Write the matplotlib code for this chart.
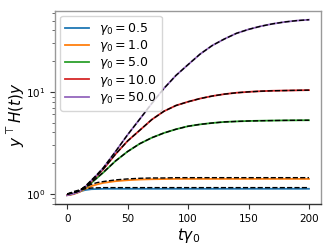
import numpy as np
import matplotlib
matplotlib.use("Agg")
import matplotlib.pyplot as plt

# time grid (t*gamma0) and values
t = np.array([0, 5, 10, 15, 20, 25, 30, 40, 50, 60, 70, 80, 90, 100,
              110, 120, 130, 140, 150, 160, 170, 180, 190, 200])
gammas = [0.5, 1.0, 5.0, 10.0, 50.0]

H_05 = [0.97, 1.00, 1.05, 1.09, 1.11, 1.115, 1.12, 1.12, 1.12, 1.12, 1.12, 1.12,
        1.12, 1.12, 1.12, 1.12, 1.12, 1.12, 1.12, 1.12, 1.12, 1.12, 1.12, 1.12]
H_1 = [0.97, 0.99, 1.04, 1.12, 1.19, 1.24, 1.28, 1.33, 1.36, 1.38, 1.39, 1.395,
       1.40, 1.40, 1.40, 1.40, 1.40, 1.40, 1.40, 1.40, 1.40, 1.40, 1.40, 1.40]
H_5 = [0.97, 1.0, 1.05, 1.14, 1.28, 1.44, 1.62, 2.1, 2.6, 3.1, 3.55, 3.95,
       4.3, 4.6, 4.8, 4.95, 5.07, 5.13, 5.18, 5.21, 5.23, 5.25, 5.26, 5.27]
H_10 = [0.97, 1.0, 1.05, 1.16, 1.32, 1.52, 1.75, 2.45, 3.3, 4.2, 5.35, 6.45,
        7.35, 8.0, 8.6, 9.1, 9.5, 9.8, 10.0, 10.15, 10.25, 10.3, 10.35, 10.4]
H_50 = [0.97, 1.0, 1.05, 1.17, 1.35, 1.55, 1.8, 2.6, 3.8, 5.4, 7.7, 10.8,
        14.5, 18.5, 23.5, 28.5, 33.0, 37.5, 41.0, 44.0, 46.5, 48.5, 50.0, 51.0]

# approximations (dashed black)
A_05 = [0.99, 1.05, 1.09, 1.12, 1.14, 1.145, 1.15, 1.15, 1.15, 1.15, 1.15, 1.15,
        1.15, 1.15, 1.15, 1.15, 1.15, 1.15, 1.15, 1.15, 1.15, 1.15, 1.15, 1.15]
A_1 = [0.99, 1.03, 1.08, 1.17, 1.24, 1.29, 1.32, 1.37, 1.40, 1.42, 1.43, 1.43,
       1.44, 1.44, 1.44, 1.44, 1.44, 1.44, 1.44, 1.44, 1.44, 1.44, 1.44, 1.44]
A_5 = [1.0, 1.02, 1.07, 1.16, 1.29, 1.45, 1.63, 2.1, 2.6, 3.1, 3.55, 3.95,
       4.3, 4.6, 4.8, 4.95, 5.07, 5.13, 5.18, 5.21, 5.23, 5.25, 5.26, 5.27]
A_10 = [1.0, 1.02, 1.07, 1.18, 1.33, 1.53, 1.76, 2.45, 3.3, 4.2, 5.35, 6.45,
        7.35, 8.0, 8.6, 9.1, 9.5, 9.8, 10.0, 10.15, 10.25, 10.3, 10.35, 10.4]
A_50 = [1.0, 1.02, 1.07, 1.19, 1.36, 1.56, 1.81, 2.6, 3.8, 5.4, 7.7, 10.8,
        14.5, 18.5, 23.5, 28.5, 33.0, 37.5, 41.0, 44.0, 46.5, 48.5, 50.0, 51.0]

H = [H_05, H_1, H_5, H_10, H_50]
A = [A_05, A_1, A_5, A_10, A_50]

fig = plt.figure(figsize=(3.32, 2.49), dpi=100)
ax = fig.add_axes([0.166, 0.181, 0.801, 0.775])

for g, h in zip(gammas, H):
    ax.plot(t, h, lw=1.3, label=r"$\gamma_0 = %s$" % g)
for a in A:
    ax.plot(t, a, 'k--', lw=1.0)

ax.set_yscale('log')
ax.set_xlabel(r"$t\gamma_0$", fontsize=11, labelpad=2)
ax.set_ylabel(r"$y^\top H(t)y$", fontsize=11)
ax.yaxis.set_label_coords(-0.105, 0.46)
ax.tick_params(labelsize=7.5, colors='#333333', labelcolor='black')
ax.tick_params(which='minor', colors='#555555')
for name, s in ax.spines.items():
    s.set_color('#333333' if name == 'bottom' else '#999999')
    s.set_linewidth(1.0)
ax.legend(loc='upper left', fontsize=9, labelspacing=0.1, handlelength=1.9,
          borderaxespad=0.4, borderpad=0.4)

fig.savefig("out.png", dpi=100)
